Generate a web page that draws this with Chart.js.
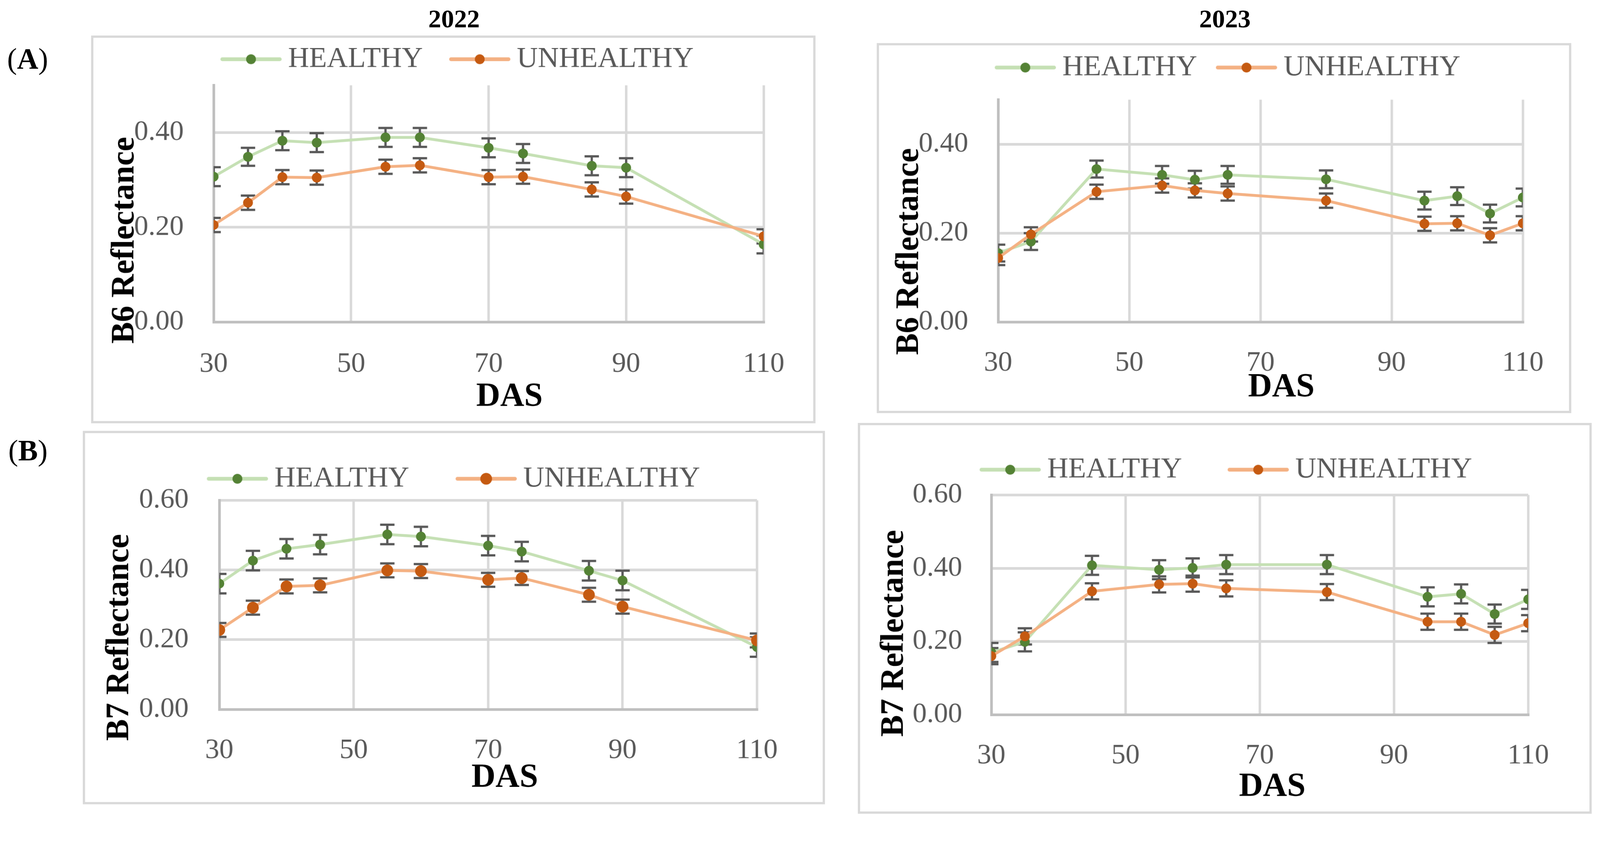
<!DOCTYPE html>
<html>
<head>
<meta charset="utf-8">
<script src="https://cdn.jsdelivr.net/npm/chart.js@4.4.1/dist/chart.umd.min.js"></script>
<style>
html, body { margin:0; padding:0; background:#fff; overflow:hidden; font-family:'Liberation Serif','Times New Roman',serif; }
#stage { position:absolute; left:0; top:0; width:4232px; height:2169px; transform-origin:0 0; background:#fff; }
.box { position:absolute; border:6px solid #D9D9D9; box-sizing:border-box; }
canvas { position:absolute; }
.hdr { position:absolute; font-weight:bold; font-size:68px; color:#000; transform:translate(-50%,-50%); white-space:nowrap; line-height:1; }
.lbl { position:absolute; font-size:78px; color:#000; transform:translate(-50%,-50%); white-space:nowrap; line-height:1; }
</style>
</head>
<body>
<div id="stage">
<div class="box" style="left:241px;top:94px;width:1916px;height:1026px"></div>
<div class="box" style="left:2319px;top:114px;width:1837px;height:979px"></div>
<div class="box" style="left:219px;top:1140px;width:1963px;height:988px"></div>
<div class="box" style="left:2269px;top:1119px;width:1941px;height:1034px"></div>
<div class="hdr" style="left:1201px;top:49px">2022</div>
<div class="hdr" style="left:3240px;top:49px">2023</div>
<div class="lbl" style="left:73px;top:156px">(<b>A</b>)</div>
<div class="lbl" style="left:74px;top:1192px">(<b>B</b>)</div>
</div>
<script>
// ---------------- DATA ----------------
const DAS_2022 = [30, 35, 40, 45, 55, 60, 70, 75, 85, 90, 110];
const DAS_2023 = [30, 35, 45, 55, 60, 65, 80, 95, 100, 105, 110];
const SERIES_NAMES = ['HEALTHY', 'UNHEALTHY'];

const B6_2022_HEALTHY       = [0.307, 0.349, 0.383, 0.379, 0.390, 0.390, 0.368, 0.356, 0.330, 0.326, 0.164];
const B6_2022_HEALTHY_ERR   = [0.020, 0.019, 0.020, 0.020, 0.020, 0.020, 0.020, 0.020, 0.020, 0.020, 0.019];
const B6_2022_UNHEALTHY     = [0.205, 0.252, 0.306, 0.305, 0.328, 0.331, 0.306, 0.307, 0.280, 0.265, 0.181];
const B6_2022_UNHEALTHY_ERR = [0.015, 0.015, 0.015, 0.015, 0.015, 0.015, 0.015, 0.015, 0.015, 0.015, 0.015];

const B6_2023_HEALTHY       = [0.155, 0.181, 0.344, 0.331, 0.320, 0.331, 0.321, 0.273, 0.283, 0.244, 0.280];
const B6_2023_HEALTHY_ERR   = [0.019, 0.019, 0.019, 0.020, 0.020, 0.020, 0.020, 0.020, 0.020, 0.020, 0.020];
const B6_2023_UNHEALTHY     = [0.144, 0.197, 0.293, 0.307, 0.296, 0.289, 0.273, 0.221, 0.222, 0.195, 0.222];
const B6_2023_UNHEALTHY_ERR = [0.016, 0.016, 0.016, 0.016, 0.016, 0.016, 0.016, 0.016, 0.016, 0.016, 0.016];

const B7_2022_HEALTHY       = [0.361, 0.427, 0.461, 0.473, 0.502, 0.496, 0.470, 0.453, 0.398, 0.370, 0.179];
const B7_2022_HEALTHY_ERR   = [0.028, 0.028, 0.028, 0.028, 0.028, 0.028, 0.028, 0.028, 0.028, 0.028, 0.028];
const B7_2022_UNHEALTHY     = [0.228, 0.292, 0.353, 0.356, 0.399, 0.397, 0.372, 0.377, 0.329, 0.295, 0.198];
const B7_2022_UNHEALTHY_ERR = [0.020, 0.020, 0.020, 0.020, 0.020, 0.020, 0.020, 0.020, 0.020, 0.020, 0.020];

const B7_2023_HEALTHY       = [0.170, 0.199, 0.408, 0.396, 0.401, 0.410, 0.410, 0.322, 0.330, 0.275, 0.315];
const B7_2023_HEALTHY_ERR   = [0.026, 0.026, 0.026, 0.026, 0.026, 0.026, 0.026, 0.026, 0.026, 0.026, 0.026];
const B7_2023_UNHEALTHY     = [0.160, 0.214, 0.337, 0.356, 0.358, 0.345, 0.335, 0.254, 0.254, 0.218, 0.250];
const B7_2023_UNHEALTHY_ERR = [0.022, 0.022, 0.022, 0.022, 0.022, 0.022, 0.022, 0.022, 0.022, 0.022, 0.022];

const X_TICKS = [30, 50, 70, 90, 110];
const Y_TICKS_B6 = [0, 0.2, 0.4];
const Y_TICKS_B7 = [0, 0.2, 0.4, 0.6];
const Y_MAX_B6 = 0.5;
const Y_MAX_B7 = 0.6;
const X_TITLE = 'DAS';
const Y_TITLE_B6 = 'B6 Reflectance';
const Y_TITLE_B7 = 'B7 Reflectance';

// ---------------- STYLE ----------------
const SERIF = "'Liberation Serif', 'Times New Roman', serif";
const H_LINE = '#C5E0B4', H_DOT = '#548235';
const U_LINE = '#F4B183', U_DOT = '#C55A11';
const GRID = '#D9D9D9', AXIS = '#BFBFBF', TXT = '#595959';
const LEG_FS = 77, LINE_LEN = 162, LEG_GAP = 17;
const BW = 2 * (LEG_GAP + LINE_LEN / 2 - LEG_FS / 2);
const TICK_FS = 75, YT_FS = 86, XT_FS = 88;
const PAD_L = 100, CAP = 19, LABEL_ROOM = 200;
const STAGE_W = 4232, STAGE_H = 2169;

const stage = document.getElementById('stage');
const SCALE = Math.min(window.innerWidth / STAGE_W, window.innerHeight / STAGE_H);
stage.style.transform = `scale(${SCALE})`;

Chart.defaults.font.family = SERIF;
Chart.defaults.color = TXT;

const mctx = document.createElement('canvas').getContext('2d');
function measure(text, font) { mctx.font = font; return mctx.measureText(text).width; }

function legendImg(lineColor, dotColor, r) {
  const c = document.createElement('canvas');
  c.width = LINE_LEN; c.height = 40;
  const g = c.getContext('2d');
  g.strokeStyle = lineColor; g.lineWidth = 10; g.lineCap = 'round';
  g.beginPath(); g.moveTo(5, 20); g.lineTo(LINE_LEN - 5, 20); g.stroke();
  g.fillStyle = dotColor; g.beginPath(); g.arc(LINE_LEN / 2, 20, r, 0, Math.PI * 2); g.fill();
  return c;
}

const errorBars = {
  id: 'errorBars',
  beforeDatasetsDraw(chart) {
    const { ctx, chartArea } = chart;
    const y = chart.scales.y;
    ctx.save();
    ctx.beginPath();
    ctx.rect(chartArea.left, 0, chartArea.right - chartArea.left, chart.height);
    ctx.clip();
    ctx.strokeStyle = '#595959';
    ctx.lineWidth = 6;
    chart.data.datasets.forEach((ds, i) => {
      const meta = chart.getDatasetMeta(i);
      meta.data.forEach((pt, j) => {
        const v = ds.data[j].y, e = ds.errors[j];
        const yT = y.getPixelForValue(v + e), yB = y.getPixelForValue(v - e);
        ctx.beginPath();
        ctx.moveTo(pt.x, yT); ctx.lineTo(pt.x, yB);
        ctx.moveTo(pt.x - CAP, yT); ctx.lineTo(pt.x + CAP, yT);
        ctx.moveTo(pt.x - CAP, yB); ctx.lineTo(pt.x + CAP, yB);
        ctx.stroke();
      });
    });
    ctx.restore();
  }
};

const PANELS = [
  { das: DAS_2022, h: B6_2022_HEALTHY, hErr: B6_2022_HEALTHY_ERR, u: B6_2022_UNHEALTHY, uErr: B6_2022_UNHEALTHY_ERR,
    yMax: Y_MAX_B6, yTicks: Y_TICKS_B6, yTitle: Y_TITLE_B6, uR: 13,
    L: 565, R: 2020, T: 226, B: 852, legY: 157, leg1: 583, leg2: 1188,
    yTickR: 486, yTitleX: 331, yTitleCY: 637, xTickY: 964, xTitleY: 1050, xTitleCX: 1348 },
  { das: DAS_2023, h: B6_2023_HEALTHY, hErr: B6_2023_HEALTHY_ERR, u: B6_2023_UNHEALTHY, uErr: B6_2023_UNHEALTHY_ERR,
    yMax: Y_MAX_B6, yTicks: Y_TICKS_B6, yTitle: Y_TITLE_B6, uR: 13,
    L: 2640, R: 4028, T: 264, B: 852, legY: 179, leg1: 2631, leg2: 3216,
    yTickR: 2561, yTitleX: 2406, yTitleCY: 661, xTickY: 961, xTitleY: 1025, xTitleCX: 3386 },
  { das: DAS_2022, h: B7_2022_HEALTHY, hErr: B7_2022_HEALTHY_ERR, u: B7_2022_UNHEALTHY, uErr: B7_2022_UNHEALTHY_ERR,
    yMax: Y_MAX_B7, yTicks: Y_TICKS_B7, yTitle: Y_TITLE_B7, uR: 15.5,
    L: 580, R: 2040, T: 1324, B: 1877, legY: 1267, leg1: 547, leg2: 1205,
    yTickR: 499, yTitleX: 317, yTitleCY: 1688, xTickY: 1986, xTitleY: 2058, xTitleCX: 1350 },
  { das: DAS_2023, h: B7_2023_HEALTHY, hErr: B7_2023_HEALTHY_ERR, u: B7_2023_UNHEALTHY, uErr: B7_2023_UNHEALTHY_ERR,
    yMax: Y_MAX_B7, yTicks: Y_TICKS_B7, yTitle: Y_TITLE_B7, uR: 13,
    L: 2622, R: 4090, T: 1310, B: 1891, legY: 1243, leg1: 2591, leg2: 3247,
    yTickR: 2545, yTitleX: 2366, yTitleCY: 1676, xTickY: 2000, xTitleY: 2082, xTitleCX: 3391 }
];

function buildPanel(p) {
  const legFont = `${LEG_FS}px ${SERIF}`;
  const itemW1 = BW + LEG_FS / 2 + measure(SERIES_NAMES[0], legFont);
  const itemW2 = BW + LEG_FS / 2 + measure(SERIES_NAMES[1], legFont);
  const lpad = (p.leg2 - p.leg1) - itemW1;
  const X1 = p.leg1 + (LINE_LEN - BW) / 2;
  const CT = p.legY - lpad - LEG_FS / 2;
  const LH = p.T - CT;
  // y axis box starts far enough left to hold its tick labels
  const yLeft = p.yTickR - LABEL_ROOM;
  const YW = p.L - yLeft;
  // legend spans [yLeft, legRight]; centred on the reference position
  const legRight = 2 * X1 + itemW1 + itemW2 + lpad - yLeft;
  const RW = Math.max(0, legRight - p.R);
  const CL = yLeft - PAD_L;
  const CR = p.R + RW;
  const lhY = YT_FS * 1.2, lhX = XT_FS * 1.2, lhT = TICK_FS * 1.2;
  const yTitlePadTop = p.yTitleX - yLeft - lhY / 2;
  const XH = p.xTitleY + lhX / 2 - p.B;
  const CB = p.B + XH;
  const xTickPad = p.xTickY - p.B - lhT / 2;
  const yTickPad = p.L - p.yTickR;

  const spY = measure(' ', `bold ${YT_FS}px ${SERIF}`);
  const nY = Math.max(0, Math.round(2 * (p.yTitleCY - (p.T + p.B) / 2) / spY));
  const spX = measure(' ', `bold ${XT_FS}px ${SERIF}`);
  const nX = Math.max(0, Math.round(2 * (p.xTitleCX - (p.L + p.R) / 2) / spX));

  const cv = document.createElement('canvas');
  const W = CR - CL, H = CB - CT;
  cv.width = W; cv.height = H;
  cv.style.left = CL + 'px'; cv.style.top = CT + 'px';
  cv.style.width = W + 'px'; cv.style.height = H + 'px';
  stage.appendChild(cv);

  const imgs = [legendImg(H_LINE, H_DOT, 13), legendImg(U_LINE, U_DOT, p.uR)];

  new Chart(cv, {
    type: 'line',
    data: {
      datasets: [
        { label: SERIES_NAMES[0], data: p.das.map((x, i) => ({ x, y: p.h[i] })), errors: p.hErr,
          borderColor: H_LINE, backgroundColor: H_DOT, borderWidth: 7.5,
          pointRadius: 13, pointHoverRadius: 13, pointBorderWidth: 0, pointBackgroundColor: H_DOT,
          tension: 0, order: 2 },
        { label: SERIES_NAMES[1], data: p.das.map((x, i) => ({ x, y: p.u[i] })), errors: p.uErr,
          borderColor: U_LINE, backgroundColor: U_DOT, borderWidth: 7.5,
          pointRadius: p.uR, pointHoverRadius: p.uR, pointBorderWidth: 0, pointBackgroundColor: U_DOT,
          tension: 0, order: 1 }
      ]
    },
    options: {
      responsive: false,
      animation: false,
      events: [],
      layout: { padding: { left: PAD_L, right: 0, top: 0, bottom: 0 } },
      plugins: {
        tooltip: { enabled: false },
        legend: {
          position: 'top', align: 'center',
          labels: {
            usePointStyle: true, pointStyleWidth: BW, padding: lpad,
            color: TXT, font: { size: LEG_FS, family: SERIF },
            generateLabels: (chart) => {
              const items = Chart.defaults.plugins.legend.labels.generateLabels(chart);
              items.sort((a, b) => a.datasetIndex - b.datasetIndex);
              return items.map(it => Object.assign({}, it, { pointStyle: imgs[it.datasetIndex], fontColor: TXT }));
            }
          }
        }
      },
      scales: {
        x: {
          type: 'linear', min: 30, max: 110,
          afterBuildTicks: s => { s.ticks = X_TICKS.map(v => ({ value: v })); },
          afterFit: s => { s.height = XH; },
          grid: { color: GRID, lineWidth: 6.5, drawTicks: false },
          border: { color: AXIS, width: 7 },
          ticks: { padding: xTickPad, font: { size: TICK_FS }, color: TXT, maxRotation: 0, autoSkip: false },
          title: { display: true, text: ' '.repeat(nX) + X_TITLE, color: '#000',
                   font: { size: XT_FS, weight: 'bold', family: SERIF }, padding: { top: 0, bottom: 0 } }
        },
        y: {
          type: 'linear', position: 'left', min: 0, max: p.yMax,
          afterBuildTicks: s => { s.ticks = p.yTicks.map(v => ({ value: v })); },
          afterFit: s => { s.width = YW; },
          grid: { color: GRID, lineWidth: 7, drawTicks: false },
          border: { color: AXIS, width: 7 },
          ticks: { padding: yTickPad, font: { size: TICK_FS }, color: TXT, callback: v => Number(v).toFixed(2) },
          title: { display: true, text: p.yTitle + ' '.repeat(nY), color: '#000',
                   font: { size: YT_FS, weight: 'bold', family: SERIF }, padding: { top: yTitlePadTop, bottom: 0 } }
        },
        yRightSpace: {
          type: 'linear', position: 'right', min: 0, max: p.yMax,
          afterFit: s => { s.width = RW; },
          grid: { display: false, drawOnChartArea: false, drawTicks: false },
          border: { display: false },
          ticks: { display: false },
          title: { display: false }
        }
      }
    },
    plugins: [errorBars, {
      id: 'legendHeight',
      beforeLayout(chart) {
        const lg = chart.legend;
        if (lg && !lg._fixedH) {
          const f = lg.fit;
          lg.fit = function () { f.call(this); this.height = LH; };
          lg._fixedH = true;
        }
      }
    }]
  });
}

PANELS.forEach(buildPanel);
</script>
</body>
</html>
